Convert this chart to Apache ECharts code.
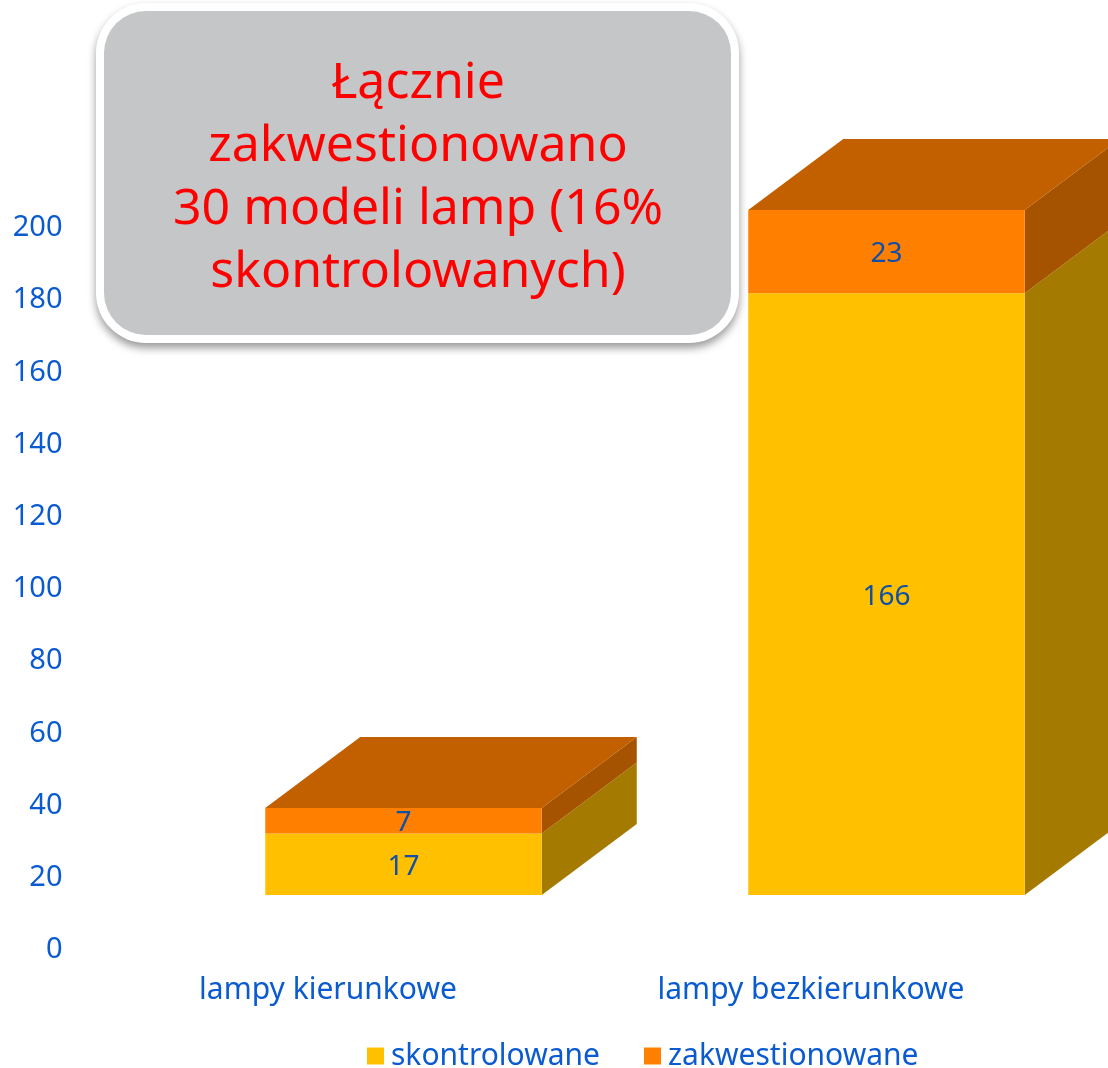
<!DOCTYPE html>
<html>
<head>
<meta charset="utf-8">
<style>
    html, body { margin: 0; padding: 0; background: #fff; }
    #chart { width: 1108px; height: 1068px; }
</style>
<script src="https://cdn.jsdelivr.net/npm/echarts@6/dist/echarts.min.js"></script>
</head>
<body>
<div id="chart"></div>
<script>
// dane
const categories = ['lampy kierunkowe', 'lampy bezkierunkowe']
const skontrolowane = [17, 166]
const zakwestionowane = [7, 23]
const calloutText = 'Łącznie\nzakwestionowano\n30 modeli lamp (16%\nskontrolowanych)'

const FONT = '"Noto Sans", sans-serif'
const AXIS_BLUE = '#0b5bd0'
const LABEL_BLUE = '#0f4fa8'

// geometria pseudo 3D (piksele)
const BAR_W = 276.5
const SHIFT_X = 75.5
const SHIFT_Y = -55
const DEPTH_X = 95
const DEPTH_Y = -71
const FRONT_SCALE = 1.004 // przednia sciana jest troche blizej niz os

function boxItem(colors, isTop) {
    return function (params, api) {
        const cat = api.value(0)
        const zero = api.coord([cat, 0])
        const from = api.coord([cat, api.value(1)])
        const to = api.coord([cat, api.value(2)])
        const x0 = from[0] + SHIFT_X - BAR_W / 2
        const x1 = x0 + BAR_W
        const y0 = zero[1] + (from[1] - zero[1]) * FRONT_SCALE + SHIFT_Y
        const y1 = zero[1] + (to[1] - zero[1]) * FRONT_SCALE + SHIFT_Y
        const children = [
            {
                type: 'polygon',
                shape: { points: [[x1, y0], [x1 + DEPTH_X, y0 + DEPTH_Y], [x1 + DEPTH_X, y1 + DEPTH_Y], [x1, y1]] },
                style: { fill: colors.side },
            },
            {
                type: 'rect',
                shape: { x: x0, y: y1, width: BAR_W, height: y0 - y1 },
                style: { fill: colors.front },
            },
        ]
        if (isTop) {
            children.push({
                type: 'polygon',
                shape: { points: [[x0, y1], [x0 + DEPTH_X, y1 + DEPTH_Y], [x1 + DEPTH_X, y1 + DEPTH_Y], [x1, y1]] },
                style: { fill: colors.top },
            })
        }
        children.push({
            type: 'text',
            style: {
                x: x0 + BAR_W / 2,
                y: (y0 + y1) / 2 + 2.5,
                text: String(api.value(3)),
                fill: LABEL_BLUE,
                font: '28px ' + FONT,
                textAlign: 'center',
                textVerticalAlign: 'middle',
            },
        })
        return { type: 'group', children: children }
    }
}

const chart = echarts.init(document.getElementById('chart'))

chart.setOption({
    animation: false,
    backgroundColor: '#fff',
    textStyle: { fontFamily: FONT },
    grid: { left: 86.5, width: 966, top: 228, height: 722 },
    legend: {
        left: 362,
        top: 1036,
        itemWidth: 17,
        itemHeight: 17,
        itemGap: 44,
        selectedMode: false,
        textStyle: { color: AXIS_BLUE, fontSize: 30, fontFamily: FONT, padding: [0, 0, 0, 2] },
        data: [
            { name: 'skontrolowane', icon: 'rect', itemStyle: { color: '#ffc000' } },
            { name: 'zakwestionowane', icon: 'rect', itemStyle: { color: '#ff8000' } },
        ],
    },
    xAxis: {
        type: 'category',
        data: categories,
        axisLine: { show: false },
        axisTick: { show: false },
        axisLabel: { color: AXIS_BLUE, fontSize: 30, margin: 25, fontFamily: FONT },
    },
    yAxis: {
        type: 'value',
        min: 0,
        max: 200,
        interval: 20,
        axisLine: { show: false },
        axisTick: { show: false },
        splitLine: { show: false },
        axisLabel: { color: AXIS_BLUE, fontSize: 29, margin: 24, fontFamily: FONT },
    },
    series: [
        {
            name: 'skontrolowane',
            type: 'custom',
            coordinateSystem: 'cartesian2d',
            clip: false,
            itemStyle: { color: '#ffc000' },
            renderItem: boxItem({ front: '#ffc000', side: '#a47a00' }, false),
            encode: { x: 0, y: [1, 2] },
            data: skontrolowane.map((v, i) => [i, 0, v, v]),
        },
        {
            name: 'zakwestionowane',
            type: 'custom',
            coordinateSystem: 'cartesian2d',
            clip: false,
            itemStyle: { color: '#ff8000' },
            renderItem: boxItem({ front: '#ff8000', side: '#a65300', top: '#c26000' }, true),
            encode: { x: 0, y: [1, 2] },
            data: zakwestionowane.map((v, i) => [i, skontrolowane[i], skontrolowane[i] + v, v]),
        },
    ],
    graphic: [
        {
            type: 'rect',
            z: 100,
            shape: { x: 96, y: 3, width: 643, height: 340, r: 50 },
            style: {
                fill: '#fff',
                shadowColor: 'rgba(0,0,0,0.4)',
                shadowBlur: 9,
                shadowOffsetY: 5,
            },
        },
        {
            type: 'rect',
            z: 101,
            shape: { x: 104, y: 11, width: 627, height: 324, r: 42 },
            style: { fill: '#c5c6c8' },
        },
        {
            type: 'text',
            z: 102,
            x: 418,
            y: 178.5,
            style: {
                text: calloutText,
                fill: '#ff0000',
                font: '50px ' + FONT,
                lineHeight: 63,
                textAlign: 'center',
                textVerticalAlign: 'middle',
            },
        },
    ],
})
</script>
</body>
</html>
